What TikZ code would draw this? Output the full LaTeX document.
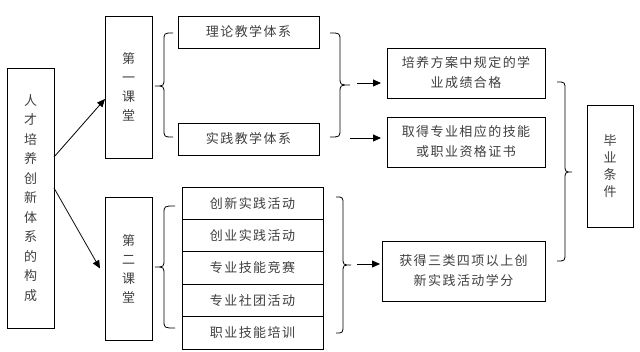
\documentclass[tikz,border=0pt]{standalone}
\usepackage{fontspec}
\newfontfamily\cjk[LetterSpace=11]{Noto Sans CJK SC}
\usetikzlibrary{arrows.meta}
\newcommand\mybrc[6]{% xend, xmid, xtip, ytop, ymid, ybot
  \draw[br] (#1,#4) .. controls (#2,#4) .. (#2,#4+8) -- (#2,#5-8)
    .. controls (#2,#5) .. (#3,#5) .. controls (#2,#5) .. (#2,#5+8)
    -- (#2,#6-8) .. controls (#2,#6) .. (#1,#6);}
\begin{document}
\begin{tikzpicture}[x=1pt,y=-1pt,
  box/.style={draw,line width=0.8pt,inner sep=0pt,outer sep=0pt,anchor=north west,
    align=center,font=\cjk\fontsize{13}{20}\selectfont,text=black!75},
  arr/.style={line width=0.8pt,-{Triangle[length=8pt,width=7pt]}},
  br/.style={line width=0.8pt}]
\useasboundingbox[fill=white] (0,0) rectangle (640,352);
% left column
\node[box,minimum width=47pt,minimum height=260pt,font=\cjk\fontsize{13}{19.5}\selectfont] (L) at (7,68)
  {人\\才\\培\\养\\创\\新\\体\\系\\的\\构\\成};
\node[box,minimum width=47pt,minimum height=142pt,font=\cjk\fontsize{13}{19}\selectfont] (C1) at (105,16)
  {第\\一\\课\\堂};
\node[box,minimum width=47pt,minimum height=143pt,font=\cjk\fontsize{13}{19}\selectfont] (C2) at (105,197)
  {第\\二\\课\\堂};
% middle column
\node[box,minimum width=141pt,minimum height=32pt] (T1) at (178,16) {理论教学体系};
\node[box,minimum width=141pt,minimum height=32pt] (T2) at (178,123) {实践教学体系};
\node[box,minimum width=141pt,minimum height=32.4pt] (S1) at (182,187) {创新实践活动};
\node[box,minimum width=141pt,minimum height=32.4pt] (S2) at (182,219.4) {创业实践活动};
\node[box,minimum width=141pt,minimum height=32.4pt] (S3) at (182,251.8) {专业技能竞赛};
\node[box,minimum width=141pt,minimum height=32.4pt] (S4) at (182,284.2) {专业社团活动};
\node[box,minimum width=141pt,minimum height=32.4pt] (S5) at (182,316.6) {职业技能培训};
% right column
\node[box,minimum width=158pt,minimum height=50pt] (R1) at (387,48) {培养方案中规定的学\\业成绩合格};
\node[box,minimum width=158pt,minimum height=50pt] (R2) at (387,117) {取得专业相应的技能\\或职业资格证书};
\node[box,minimum width=163pt,minimum height=60pt] (R3) at (382,241) {获得三类四项以上创\\新实践活动学分};
\node[box,minimum width=46pt,minimum height=122pt,font=\cjk\fontsize{13}{17}\selectfont] (G) at (587,105)
  {毕\\业\\条\\件};
% braces
\mybrc{173}{164}{155}{33}{86}{137}
\mybrc{175}{164}{155}{206}{267}{328}
\mybrc{330}{340}{350}{33}{85}{137}
\mybrc{336}{343}{351}{197}{265}{333}
\mybrc{557}{565}{572}{82}{172}{261}
% arrows
\draw[arr] ([yshift=41pt]L.east) -- ([yshift=-12pt]C1.west);
\draw[arr] ([yshift=10pt]L.east) -- ([xshift=-5pt]C2.west);
\coordinate (b1) at (357,83);
\coordinate (b2) at (350,138);
\coordinate (b3) at (357,264);
\draw[arr,shorten >=6pt] (b1) -- (b1 -| R1.west);
\draw[arr,shorten >=6pt] (b2) -- (b2 -| R2.west);
\draw[arr,shorten >=2pt] (b3) -- (b3 -| R3.west);
\end{tikzpicture}
\end{document}
